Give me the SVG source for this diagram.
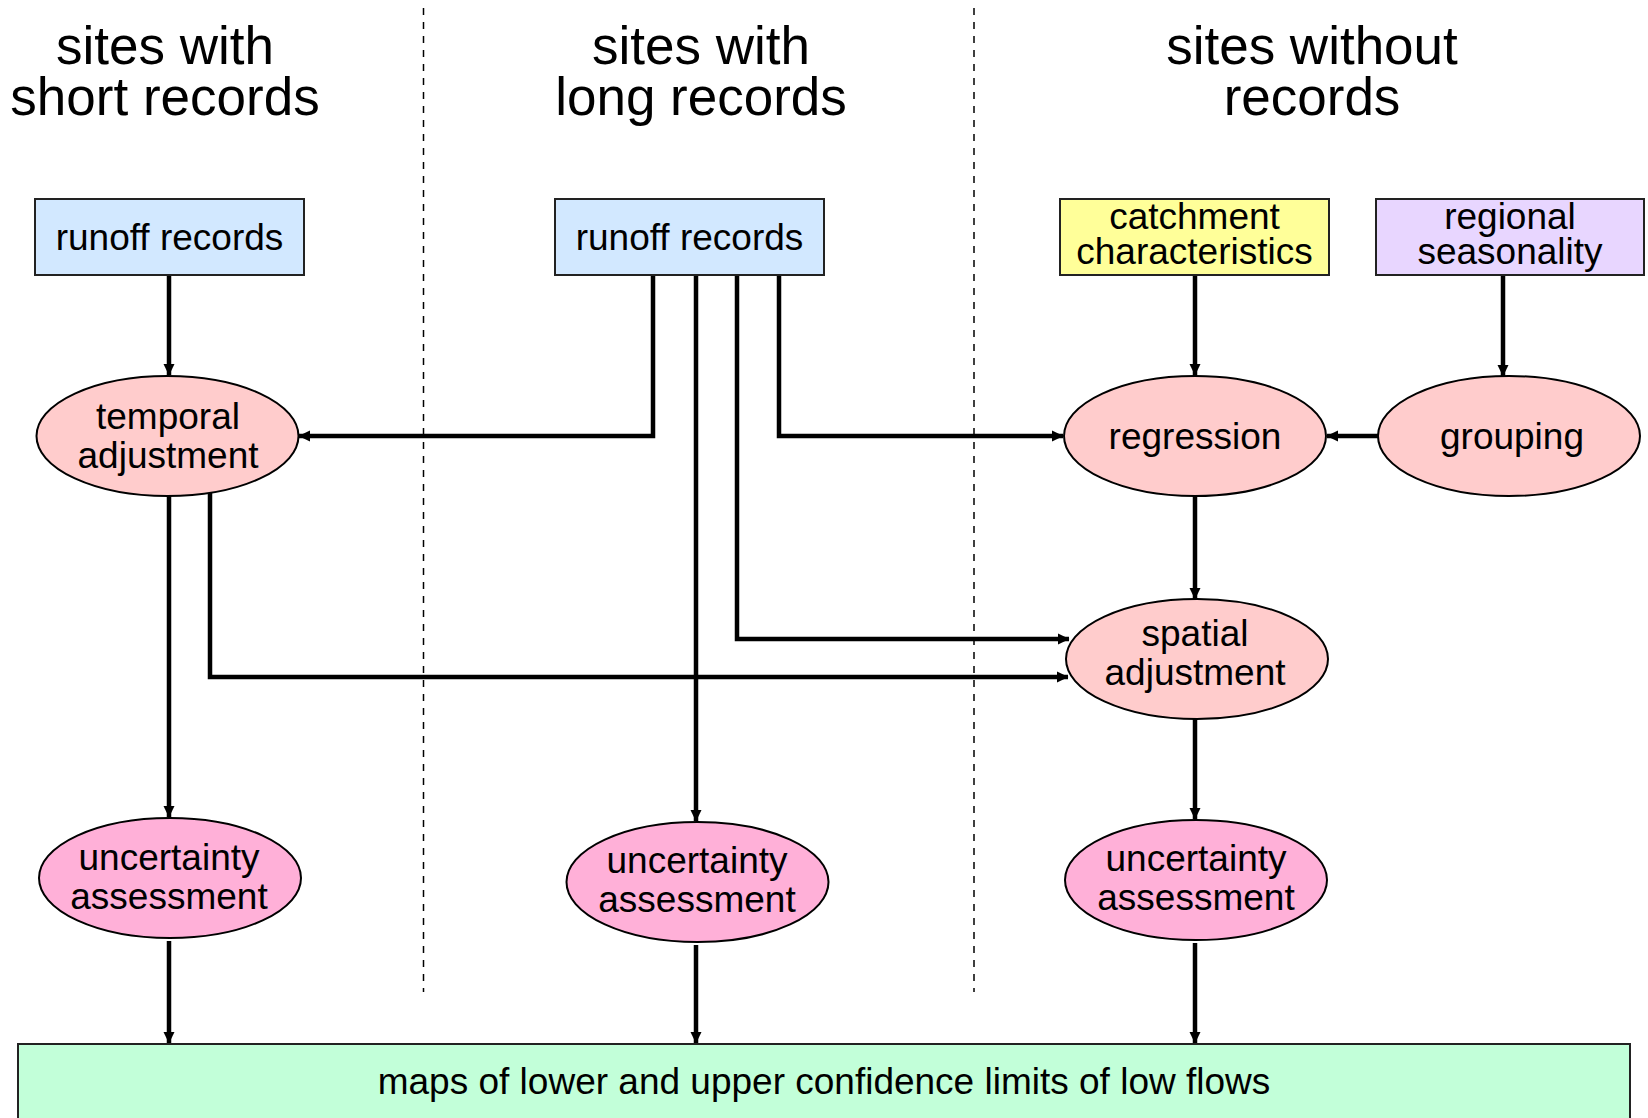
<svg xmlns="http://www.w3.org/2000/svg" width="1648" height="1118" viewBox="0 0 1648 1118">
<style>
text{font-family:"Liberation Sans",Arial,sans-serif;fill:#000;text-anchor:middle}
.h{font-size:53px}
.t{font-size:37px}
.box{stroke:#222;stroke-width:2}
.ell{stroke:#000;stroke-width:2}
.c{fill:none;stroke:#000;stroke-width:4.5}
.d{fill:none;stroke:#000;stroke-width:1.5;stroke-dasharray:7 7}
</style>
<defs>
<marker id="ah" markerUnits="userSpaceOnUse" markerWidth="12" markerHeight="12" viewBox="0 0 12 12" refX="11" refY="6" orient="auto">
<path d="M0,0.5 L11.5,6 L0,11.5 Z" fill="#000"/>
</marker>
</defs>
<rect width="1648" height="1118" fill="#fff"/>
<g id="headers">
<text class="h" x="165" y="64">sites with</text>
<text class="h" x="165" y="115">short records</text>
<text class="h" x="701" y="64">sites with</text>
<text class="h" x="701" y="115">long records</text>
<text class="h" x="1312" y="64">sites without</text>
<text class="h" x="1312" y="115">records</text>
</g>
<g id="dividers">
<line class="d" x1="423.5" y1="8" x2="423.5" y2="992"/>
<line class="d" x1="974" y1="8" x2="974" y2="992"/>
</g>
<g id="connectors">
<path class="c" marker-end="url(#ah)" d="M169,275 V375"/>
<path class="c" marker-end="url(#ah)" d="M653,275 V436 H299"/>
<path class="c" marker-end="url(#ah)" d="M696,275 V821"/>
<path class="c" marker-end="url(#ah)" d="M737,275 V639 H1069"/>
<path class="c" marker-end="url(#ah)" d="M779,275 V436 H1063"/>
<path class="c" marker-end="url(#ah)" d="M169,496 V817"/>
<path class="c" marker-end="url(#ah)" d="M210,492 V677 H1068"/>
<path class="c" marker-end="url(#ah)" d="M1195,275 V375"/>
<path class="c" marker-end="url(#ah)" d="M1503,275 V376"/>
<path class="c" marker-end="url(#ah)" d="M1378,436 H1327"/>
<path class="c" marker-end="url(#ah)" d="M1195,496 V599"/>
<path class="c" marker-end="url(#ah)" d="M1195,719 V819"/>
<path class="c" marker-end="url(#ah)" d="M169,941 V1043"/>
<path class="c" marker-end="url(#ah)" d="M696,945 V1043"/>
<path class="c" marker-end="url(#ah)" d="M1195,943 V1043"/>
</g>
<g id="runoff1">
<rect class="box" x="35" y="199" width="269" height="76" fill="#D2E8FF"/>
<text class="t" x="169.5" y="249.5">runoff records</text>
</g>
<g id="runoff2">
<rect class="box" x="555" y="199" width="269" height="76" fill="#D2E8FF"/>
<text class="t" x="689.5" y="249.5">runoff records</text>
</g>
<g id="catchment">
<rect class="box" x="1060" y="199" width="269" height="76" fill="#FFFF99"/>
<text class="t" x="1194.5" y="229">catchment</text>
<text class="t" x="1194.5" y="264">characteristics</text>
</g>
<g id="regional">
<rect class="box" x="1376" y="199" width="268" height="76" fill="#E8D6FF"/>
<text class="t" x="1510" y="229">regional</text>
<text class="t" x="1510" y="264">seasonality</text>
</g>
<g id="temporal">
<ellipse class="ell" cx="167.5" cy="436" rx="131" ry="60" fill="#FFCCCC"/>
<text class="t" x="168" y="429">temporal</text>
<text class="t" x="168" y="468">adjustment</text>
</g>
<g id="regression">
<ellipse class="ell" cx="1195" cy="436" rx="131" ry="60" fill="#FFCCCC"/>
<text class="t" x="1195" y="449">regression</text>
</g>
<g id="grouping">
<ellipse class="ell" cx="1509" cy="436" rx="131" ry="60" fill="#FFCCCC"/>
<text class="t" x="1512" y="449">grouping</text>
</g>
<g id="spatial">
<ellipse class="ell" cx="1197" cy="659" rx="131" ry="60" fill="#FFCCCC"/>
<text class="t" x="1195" y="646">spatial</text>
<text class="t" x="1195" y="685">adjustment</text>
</g>
<g id="uncertainty1">
<ellipse class="ell" cx="170" cy="878" rx="131" ry="60" fill="#FFB0D8"/>
<text class="t" x="169" y="870">uncertainty</text>
<text class="t" x="169" y="909">assessment</text>
</g>
<g id="uncertainty2">
<ellipse class="ell" cx="697.5" cy="882" rx="131" ry="60" fill="#FFB0D8"/>
<text class="t" x="697" y="873">uncertainty</text>
<text class="t" x="697" y="912">assessment</text>
</g>
<g id="uncertainty3">
<ellipse class="ell" cx="1196" cy="880" rx="131" ry="60" fill="#FFB0D8"/>
<text class="t" x="1196" y="871">uncertainty</text>
<text class="t" x="1196" y="910">assessment</text>
</g>
<g id="maps">
<rect class="box" x="18" y="1044" width="1612" height="90" fill="#C2FFD9"/>
<text class="t" x="824" y="1094">maps of lower and upper confidence limits of low flows</text>
</g>
</svg>
